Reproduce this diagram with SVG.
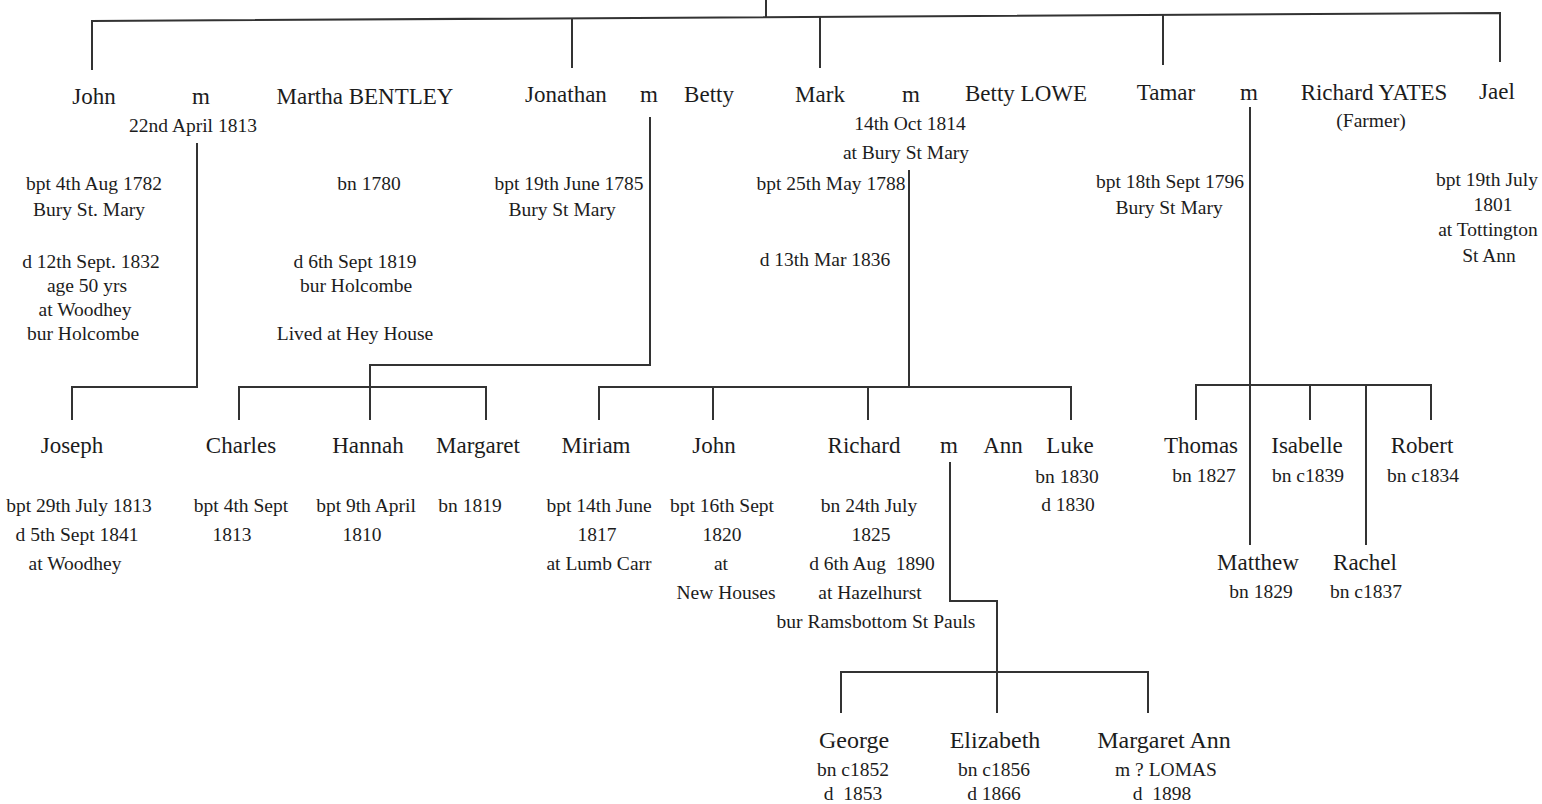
<svg xmlns="http://www.w3.org/2000/svg" width="1542" height="804" viewBox="0 0 1542 804">
<style>
text{font-family:"Liberation Serif","Times New Roman",serif;fill:#1c1c1c;text-anchor:middle}
.n{font-size:23px}
.b{font-size:24px}
.d{font-size:19.5px}
.pre{white-space:pre}
.c path{fill:none;stroke:#333;stroke-width:2}
</style>
<rect width="1542" height="804" fill="#fff"/>
<g id="connectors" class="c">
<path d="M766,0 V17"/>
<path d="M92,70 V21 L1500,13 V62"/>
<path d="M572,18 V68"/>
<path d="M820,17 V68"/>
<path d="M1163,15 V65"/>
<path d="M197,143 V387 H72 V420"/>
<path d="M650,117 V365 H370 V420"/>
<path d="M239,420 V387 H486 V420"/>
<path d="M909,170 V387"/>
<path d="M599,420 V387 H1071 V420"/>
<path d="M713,387 V420"/>
<path d="M868,387 V420"/>
<path d="M950,462 V601 H997 V713"/>
<path d="M841,713 V672 H1148 V713"/>
<path d="M1250,107 V545"/>
<path d="M1196,420 V385 H1431 V420"/>
<path d="M1310,385 V420"/>
<path d="M1366,385 V545"/>
</g>
<g id="john">
<text class="n" x="94" y="104">John</text>
<text class="d" x="94" y="190">bpt 4th Aug 1782</text>
<text class="d" x="89" y="216">Bury St. Mary</text>
<text class="d" x="91" y="268">d 12th Sept. 1832</text>
<text class="d" x="87" y="292">age 50 yrs</text>
<text class="d" x="85" y="316">at Woodhey</text>
<text class="d" x="83" y="340">bur Holcombe</text>
</g>
<g id="marriage-john-martha">
<text class="n" x="201" y="104">m</text>
<text class="d" x="193" y="132">22nd April 1813</text>
</g>
<g id="martha">
<text class="n" x="365" y="104">Martha BENTLEY</text>
<text class="d" x="369" y="190">bn 1780</text>
<text class="d" x="355" y="268">d 6th Sept 1819</text>
<text class="d" x="356" y="292">bur Holcombe</text>
<text class="d" x="355" y="340">Lived at Hey House</text>
</g>
<g id="jonathan">
<text class="n" x="566" y="102">Jonathan</text>
<text class="d" x="569" y="190">bpt 19th June 1785</text>
<text class="d" x="562" y="216">Bury St Mary</text>
</g>
<g id="marriage-jonathan-betty">
<text class="n" x="649" y="102">m</text>
</g>
<g id="betty">
<text class="n" x="709" y="102">Betty</text>
</g>
<g id="mark">
<text class="n" x="820" y="102">Mark</text>
<text class="d" x="831" y="190">bpt 25th May 1788</text>
<text class="d" x="825" y="266">d 13th Mar 1836</text>
</g>
<g id="marriage-mark-betty">
<text class="n" x="911" y="102">m</text>
<text class="d" x="910" y="130">14th Oct 1814</text>
<text class="d" x="906" y="159">at Bury St Mary</text>
</g>
<g id="betty-lowe">
<text class="n" x="1026" y="101">Betty LOWE</text>
</g>
<g id="tamar">
<text class="n" x="1166" y="100">Tamar</text>
<text class="d" x="1170" y="188">bpt 18th Sept 1796</text>
<text class="d" x="1169" y="214">Bury St Mary</text>
</g>
<g id="marriage-tamar-richard">
<text class="n" x="1249" y="100">m</text>
</g>
<g id="richard-yates">
<text class="n" x="1374" y="100">Richard YATES</text>
<text class="d" x="1371" y="127">(Farmer)</text>
</g>
<g id="jael">
<text class="n" x="1497" y="99">Jael</text>
<text class="d" x="1487" y="186">bpt 19th July</text>
<text class="d" x="1493" y="211">1801</text>
<text class="d" x="1488" y="236">at Tottington</text>
<text class="d" x="1489" y="262">St Ann</text>
</g>
<g id="joseph">
<text class="n" x="72" y="453">Joseph</text>
<text class="d" x="79" y="512">bpt 29th July 1813</text>
<text class="d" x="77" y="541">d 5th Sept 1841</text>
<text class="d" x="75" y="570">at Woodhey</text>
</g>
<g id="charles">
<text class="n" x="241" y="453">Charles</text>
<text class="d" x="241" y="512">bpt 4th Sept</text>
<text class="d" x="232" y="541">1813</text>
</g>
<g id="hannah">
<text class="n" x="368" y="453">Hannah</text>
<text class="d" x="366" y="512">bpt 9th April</text>
<text class="d" x="362" y="541">1810</text>
</g>
<g id="margaret">
<text class="n" x="478" y="453">Margaret</text>
<text class="d" x="470" y="512">bn 1819</text>
</g>
<g id="miriam">
<text class="n" x="596" y="453">Miriam</text>
<text class="d" x="599" y="512">bpt 14th June</text>
<text class="d" x="597" y="541">1817</text>
<text class="d" x="599" y="570">at Lumb Carr</text>
</g>
<g id="john-2">
<text class="n" x="714" y="453">John</text>
<text class="d" x="722" y="512">bpt 16th Sept</text>
<text class="d" x="722" y="541">1820</text>
<text class="d" x="721" y="570">at</text>
<text class="d" x="726" y="599">New Houses</text>
</g>
<g id="richard">
<text class="n" x="864" y="453">Richard</text>
<text class="d" x="869" y="512">bn 24th July</text>
<text class="d" x="871" y="541">1825</text>
<text class="d pre" x="872" y="570">d 6th Aug  1890</text>
<text class="d" x="870" y="599">at Hazelhurst</text>
<text class="d" x="876" y="628">bur Ramsbottom St Pauls</text>
</g>
<g id="marriage-richard-ann">
<text class="n" x="949" y="453">m</text>
</g>
<g id="ann">
<text class="n" x="1003" y="453">Ann</text>
</g>
<g id="luke">
<text class="n" x="1070" y="453">Luke</text>
<text class="d" x="1067" y="483">bn 1830</text>
<text class="d" x="1068" y="511">d 1830</text>
</g>
<g id="thomas">
<text class="n" x="1201" y="453">Thomas</text>
<text class="d" x="1204" y="482">bn 1827</text>
</g>
<g id="isabelle">
<text class="n" x="1307" y="453">Isabelle</text>
<text class="d" x="1308" y="482">bn c1839</text>
</g>
<g id="robert">
<text class="n" x="1422" y="453">Robert</text>
<text class="d" x="1423" y="482">bn c1834</text>
</g>
<g id="matthew">
<text class="n" x="1258" y="570">Matthew</text>
<text class="d" x="1261" y="598">bn 1829</text>
</g>
<g id="rachel">
<text class="n" x="1365" y="570">Rachel</text>
<text class="d" x="1366" y="598">bn c1837</text>
</g>
<g id="george">
<text class="b" x="854" y="748">George</text>
<text class="d" x="853" y="776">bn c1852</text>
<text class="d pre" x="853" y="800">d  1853</text>
</g>
<g id="elizabeth">
<text class="b" x="995" y="748">Elizabeth</text>
<text class="d" x="994" y="776">bn c1856</text>
<text class="d" x="994" y="800">d 1866</text>
</g>
<g id="margaret-ann">
<text class="b" x="1164" y="748">Margaret Ann</text>
<text class="d" x="1166" y="776">m ? LOMAS</text>
<text class="d pre" x="1162" y="800">d  1898</text>
</g>
</svg>
